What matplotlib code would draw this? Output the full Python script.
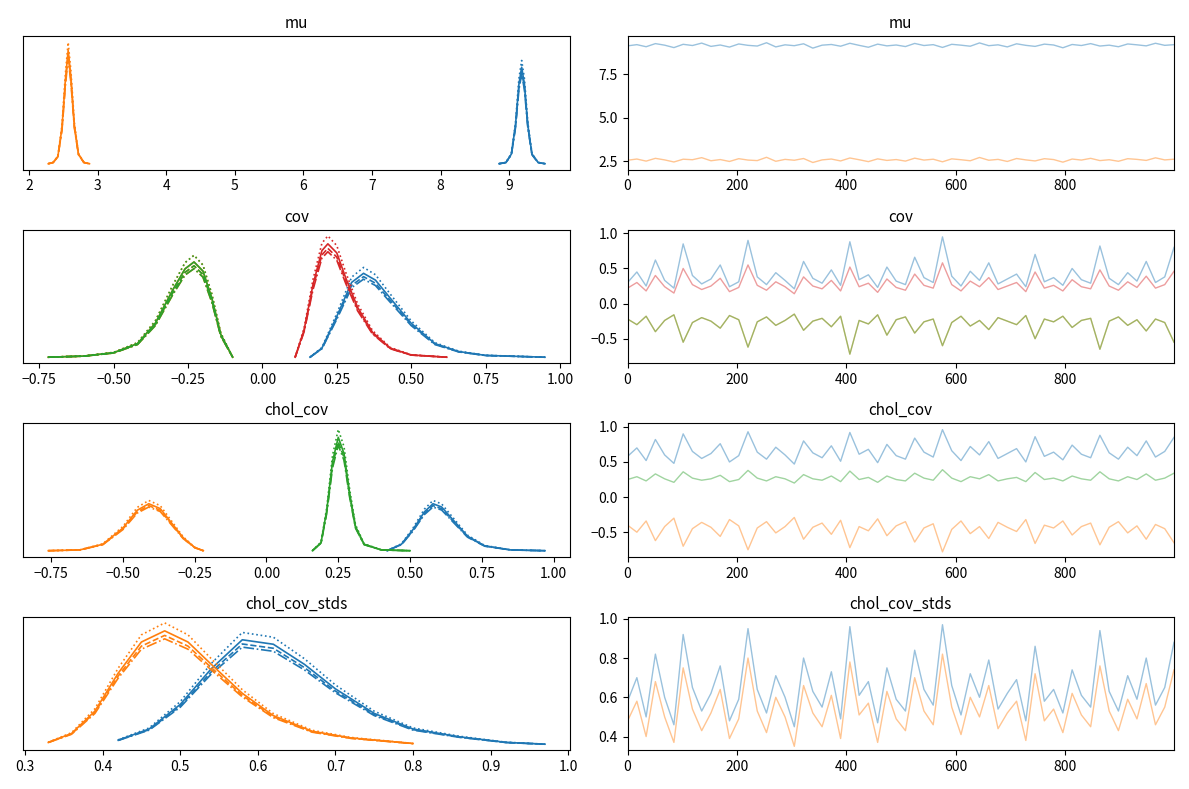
import numpy as np
import matplotlib
matplotlib.use("Agg")
import matplotlib.pyplot as plt

plt.rcParams['font.family'] = ['Noto Sans CJK JP', 'DejaVu Sans']

BLUE, ORANGE, GREEN, RED = "#1f77b4", "#ff7f0e", "#2ca02c", "#d62728"
chain_styles = ["-", "--", "-.", ":"]
chain_scale = [1.0, 0.96, 0.93, 1.07]

titles = ["mu", "cov", "chol_cov", "chol_cov_stds"]

# KDE curves (x, density)
kde = {
 "mu": [
  (ORANGE, [2.28,2.35,2.42,2.48,2.53,2.57,2.61,2.66,2.72,2.80,2.88], [0,0.05,0.3,1.5,3.5,4.7,3.6,1.6,0.4,0.05,0]),
  (BLUE, [8.85,8.95,9.03,9.09,9.14,9.18,9.22,9.27,9.33,9.42,9.52], [0,0.05,0.4,1.6,3.3,4.0,3.3,1.6,0.4,0.05,0]),
 ],
 "cov": [
  (BLUE, [0.16,0.2,0.25,0.3,0.34,0.38,0.43,0.5,0.58,0.66,0.75,0.95], [0,0.4,1.8,3.3,3.7,3.4,2.6,1.5,0.6,0.25,0.08,0]),
  (ORANGE, [-0.72,-0.6,-0.5,-0.42,-0.36,-0.3,-0.26,-0.23,-0.2,-0.17,-0.14,-0.1], [0,0.05,0.2,0.6,1.5,3.0,3.9,4.2,3.8,2.6,1.0,0]),
  (GREEN, [-0.72,-0.6,-0.5,-0.42,-0.36,-0.3,-0.26,-0.23,-0.2,-0.17,-0.14,-0.1], [0,0.05,0.2,0.6,1.5,3.0,3.9,4.2,3.8,2.6,1.0,0]),
  (RED, [0.11,0.14,0.17,0.2,0.22,0.25,0.28,0.32,0.37,0.43,0.5,0.62], [0,1.2,3.2,4.7,5.0,4.6,3.5,2.2,1.1,0.4,0.1,0]),
 ],
 "chol_cov": [
  (BLUE, [0.42,0.47,0.51,0.55,0.58,0.61,0.65,0.7,0.76,0.85,0.97], [0,0.4,1.3,2.4,2.9,2.7,1.9,0.9,0.3,0.05,0]),
  (ORANGE, [-0.76,-0.65,-0.57,-0.5,-0.45,-0.41,-0.37,-0.33,-0.29,-0.25,-0.22], [0,0.05,0.4,1.4,2.5,2.9,2.6,1.7,0.8,0.2,0]),
  (GREEN, [0.16,0.19,0.21,0.23,0.25,0.27,0.29,0.31,0.34,0.4,0.5], [0,0.5,2.5,5.5,7.0,6.0,3.5,1.5,0.4,0.05,0]),
 ],
 "chol_cov_stds": [
  (BLUE, [0.42,0.46,0.5,0.54,0.58,0.62,0.66,0.7,0.75,0.8,0.86,0.92,0.97], [0.2,0.7,1.8,3.4,4.7,4.5,3.6,2.5,1.4,0.7,0.35,0.1,0.02]),
  (ORANGE, [0.33,0.36,0.39,0.42,0.45,0.48,0.51,0.54,0.58,0.62,0.67,0.72,0.8], [0.1,0.5,1.5,3.2,4.6,5.1,4.6,3.6,2.3,1.3,0.6,0.3,0.05]),
 ],
}

# trace samples (coarse readings)
mu_blue = [9.15,9.22,9.10,9.28,9.19,9.05,9.24,9.17,9.31,9.12,9.20,9.08,9.26,9.18,9.14,9.33,9.09,9.21,9.16,9.27,9.02,9.19,9.23,9.13,9.30,9.18,9.07,9.25,9.15,9.20,9.11,9.29,9.17,9.22,9.06,9.24,9.19,9.13,9.32,9.16,9.21,9.09,9.27,9.18,9.12,9.25,9.20,9.04,9.23,9.17,9.28,9.14,9.19,9.10,9.26,9.21,9.15,9.30,9.18,9.22]
mu_orange = [2.55,2.62,2.50,2.66,2.57,2.45,2.61,2.58,2.70,2.52,2.59,2.48,2.64,2.56,2.53,2.72,2.49,2.60,2.55,2.65,2.42,2.57,2.62,2.51,2.68,2.58,2.47,2.63,2.54,2.59,2.50,2.67,2.56,2.61,2.46,2.63,2.58,2.52,2.71,2.55,2.60,2.48,2.65,2.57,2.51,2.64,2.59,2.44,2.62,2.56,2.66,2.53,2.58,2.49,2.64,2.60,2.54,2.69,2.57,2.61]
cov_blue = [0.30,0.45,0.25,0.62,0.33,0.22,0.85,0.40,0.28,0.35,0.55,0.24,0.31,0.90,0.38,0.27,0.44,0.33,0.21,0.60,0.36,0.29,0.48,0.26,0.88,0.34,0.41,0.23,0.52,0.32,0.27,0.66,0.37,0.30,0.95,0.39,0.25,0.46,0.33,0.58,0.28,0.35,0.42,0.24,0.70,0.31,0.37,0.26,0.50,0.34,0.29,0.82,0.36,0.27,0.44,0.32,0.60,0.30,0.38,0.80]
cov_red = [0.22,0.30,0.18,0.40,0.24,0.15,0.50,0.27,0.20,0.25,0.36,0.17,0.23,0.55,0.26,0.19,0.31,0.24,0.14,0.38,0.25,0.21,0.33,0.18,0.52,0.24,0.29,0.16,0.35,0.23,0.19,0.42,0.26,0.22,0.58,0.27,0.18,0.32,0.24,0.37,0.20,0.25,0.30,0.17,0.45,0.22,0.26,0.18,0.34,0.24,0.21,0.48,0.25,0.19,0.31,0.23,0.39,0.22,0.27,0.46]
cov_green = [-0.22,-0.30,-0.18,-0.40,-0.24,-0.16,-0.55,-0.27,-0.20,-0.25,-0.35,-0.17,-0.23,-0.62,-0.26,-0.19,-0.31,-0.24,-0.15,-0.38,-0.25,-0.21,-0.33,-0.18,-0.72,-0.24,-0.29,-0.16,-0.45,-0.23,-0.19,-0.42,-0.26,-0.22,-0.60,-0.27,-0.18,-0.32,-0.24,-0.37,-0.20,-0.25,-0.30,-0.17,-0.50,-0.22,-0.26,-0.18,-0.34,-0.24,-0.21,-0.65,-0.25,-0.19,-0.31,-0.23,-0.39,-0.22,-0.27,-0.55]
chol_blue = [0.58,0.70,0.52,0.82,0.60,0.48,0.90,0.65,0.55,0.62,0.76,0.50,0.59,0.93,0.64,0.54,0.71,0.60,0.47,0.80,0.63,0.56,0.73,0.51,0.92,0.61,0.68,0.49,0.75,0.59,0.54,0.84,0.64,0.57,0.96,0.66,0.52,0.72,0.60,0.79,0.55,0.62,0.69,0.50,0.86,0.58,0.64,0.53,0.74,0.61,0.56,0.88,0.63,0.54,0.71,0.59,0.80,0.57,0.65,0.85]
chol_orange = [-0.40,-0.50,-0.34,-0.62,-0.42,-0.30,-0.70,-0.45,-0.36,-0.43,-0.56,-0.32,-0.41,-0.75,-0.44,-0.35,-0.51,-0.42,-0.29,-0.60,-0.43,-0.37,-0.53,-0.33,-0.72,-0.42,-0.48,-0.31,-0.55,-0.41,-0.35,-0.64,-0.44,-0.38,-0.78,-0.46,-0.34,-0.52,-0.42,-0.59,-0.36,-0.43,-0.49,-0.32,-0.66,-0.40,-0.44,-0.34,-0.54,-0.42,-0.37,-0.68,-0.43,-0.35,-0.51,-0.41,-0.60,-0.39,-0.45,-0.65]
chol_green = [0.25,0.29,0.23,0.33,0.26,0.21,0.36,0.27,0.24,0.26,0.31,0.22,0.25,0.38,0.27,0.23,0.29,0.26,0.20,0.32,0.26,0.24,0.30,0.22,0.37,0.25,0.28,0.21,0.30,0.25,0.23,0.34,0.27,0.24,0.39,0.27,0.22,0.29,0.26,0.32,0.23,0.26,0.28,0.22,0.35,0.25,0.27,0.23,0.30,0.26,0.24,0.36,0.26,0.23,0.29,0.25,0.33,0.24,0.27,0.34]
std_blue = [0.58,0.70,0.50,0.82,0.60,0.46,0.92,0.65,0.53,0.62,0.76,0.48,0.59,0.95,0.64,0.52,0.71,0.60,0.45,0.80,0.63,0.55,0.73,0.49,0.96,0.61,0.68,0.47,0.75,0.59,0.53,0.84,0.64,0.56,0.97,0.66,0.51,0.72,0.60,0.79,0.54,0.62,0.69,0.48,0.86,0.58,0.64,0.52,0.74,0.61,0.55,0.94,0.63,0.53,0.71,0.59,0.80,0.56,0.65,0.88]
std_orange = [0.48,0.58,0.40,0.68,0.50,0.37,0.75,0.54,0.43,0.52,0.64,0.39,0.49,0.80,0.53,0.42,0.60,0.50,0.35,0.66,0.52,0.45,0.61,0.39,0.78,0.51,0.57,0.37,0.63,0.49,0.43,0.70,0.53,0.46,0.82,0.55,0.41,0.60,0.50,0.66,0.44,0.52,0.58,0.38,0.72,0.48,0.54,0.42,0.62,0.51,0.45,0.76,0.53,0.43,0.59,0.49,0.67,0.46,0.55,0.74]

traces = {
 "mu": [(BLUE, mu_blue), (ORANGE, mu_orange)],
 "cov": [(BLUE, cov_blue), (ORANGE, cov_green), (GREEN, cov_green), (RED, cov_red)],
 "chol_cov": [(BLUE, chol_blue), (ORANGE, chol_orange), (GREEN, chol_green)],
 "chol_cov_stds": [(BLUE, std_blue), (ORANGE, std_orange)],
}
n_draws = 1000

fig, axes = plt.subplots(4, 2, figsize=(11.89, 7.89), dpi=100)
for i, t in enumerate(titles):
    ax = axes[i, 0]
    for color, xs, ys in kde[t]:
        for ls, s in zip(chain_styles, chain_scale):
            ax.plot(xs, np.array(ys) * s, color=color, ls=ls, lw=1.2)
    ax.set_yticks([])
    ax.set_title(t, fontsize=11)
    ax2 = axes[i, 1]
    for color, vals in traces[t]:
        x = np.linspace(0, n_draws - 1, len(vals))
        ax2.plot(x, vals, color=color, alpha=0.45, lw=1)
    ax2.set_xlim(0, n_draws - 1)
    ax2.set_xticks([0, 200, 400, 600, 800])
    ax2.set_title(t, fontsize=11)

axes[0, 0].set_xticks(range(2, 10))
axes[1, 0].set_xticks([-0.75, -0.5, -0.25, 0, 0.25, 0.5, 0.75, 1.0])
axes[2, 0].set_xticks([-0.75, -0.5, -0.25, 0, 0.25, 0.5, 0.75, 1.0])
axes[3, 0].set_xticks([0.3, 0.4, 0.5, 0.6, 0.7, 0.8, 0.9, 1.0])
axes[0, 1].set_yticks([2.5, 5.0, 7.5])
axes[0, 1].set_ylim(2, 9.7)
for r in (1, 2):
    axes[r, 1].set_yticks([-0.5, 0, 0.5, 1.0])
    axes[r, 1].set_ylim(-0.85, 1.05)
axes[3, 1].set_yticks([0.4, 0.6, 0.8, 1.0])
axes[3, 1].set_ylim(0.33, 1.01)
fig.tight_layout()
fig.savefig("out.png", dpi=100)
